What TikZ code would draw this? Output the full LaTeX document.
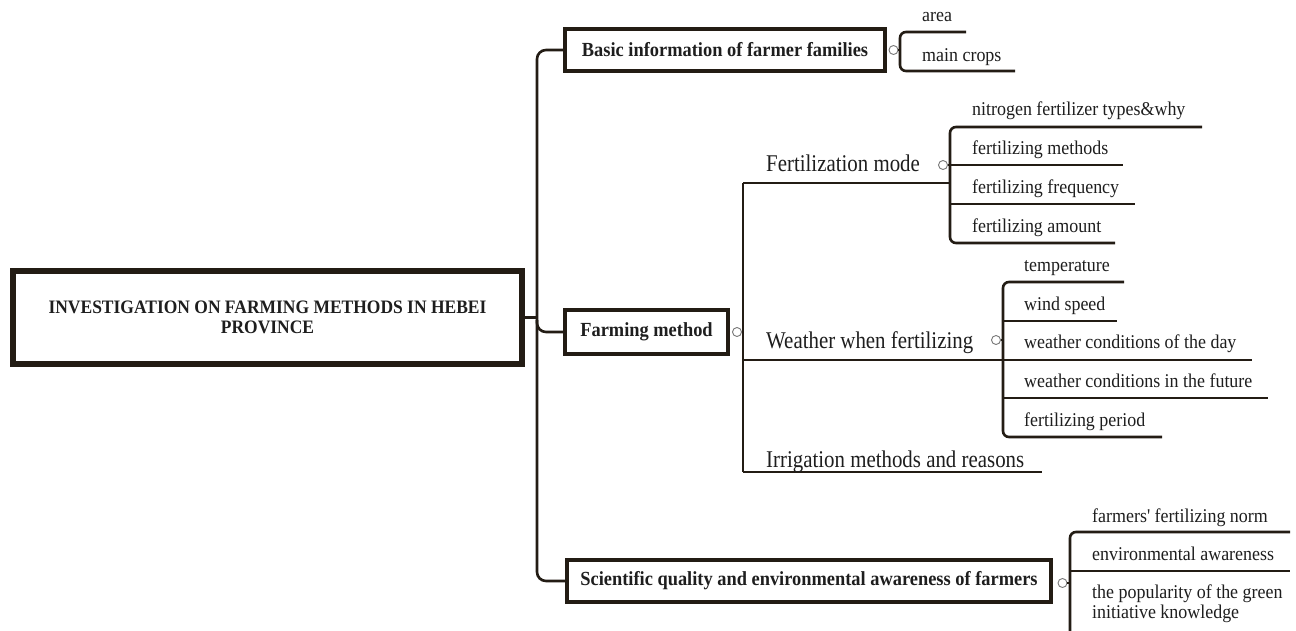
\documentclass[tikz,border=0pt]{standalone}
\usepackage{fontspec}
\setmainfont{Liberation Serif}
\newfontfamily\condserif[FakeStretch=0.87]{Liberation Serif}
\newfontfamily\leafserif[FakeStretch=0.92, Ligatures=TeXOff]{Liberation Serif}
\newfontfamily\boxserif[FakeStretch=0.92]{Liberation Serif}
\usetikzlibrary{calc}
\definecolor{lineclr}{RGB}{35,28,20}
\definecolor{txtclr}{RGB}{30,30,30}
\definecolor{dotclr}{RGB}{120,120,120}
\tikzset{
  conn/.style={draw=lineclr, line width=2.6pt},
  brk/.style={conn, rounded corners=6pt},
  boxs/.style={draw=lineclr, line width=4pt, fill=white, inner sep=0pt, text=txtclr,
    font=\boxserif\bfseries\fontsize{20}{22}\selectfont},
  rootbox/.style={boxs, line width=6pt, align=center, font=\boxserif\bfseries\fontsize{19}{20}\selectfont},
  dotnode/.style={circle, draw=dotclr, line width=0.9pt, fill=white, minimum size=9pt, inner sep=0pt},
  lvtwo/.style={anchor=base west, inner sep=0pt, text=txtclr, font=\condserif\fontsize{24}{28}\selectfont},
  lvthree/.style={anchor=base west, inner sep=0pt, text=txtclr, font=\leafserif\fontsize{19.5}{20}\selectfont},
}
\begin{document}
\begin{tikzpicture}[x=1pt,y=-1pt]
\useasboundingbox (0,0) rectangle (1296,630);
\fill[white] (0,0) rectangle (1296,630);

% main boxes
\node[rootbox, minimum width=509pt, minimum height=93pt] (root) at (267.5,317.5)
  {INVESTIGATION ON FARMING METHODS IN HEBEI\\PROVINCE};
\node[boxs, minimum width=320pt, minimum height=42pt] (basic) at (725,50) {Basic information of farmer families};
\node[boxs, minimum width=163pt, minimum height=44pt] (farm) at (646.5,332) {Farming method};
\node[boxs, minimum width=484pt, minimum height=42pt] (sci) at (809,581) {Scientific quality and environmental awareness of farmers};

% trunk
\coordinate (tx) at (537,0);
\draw[conn, rounded corners=9pt] (basic.west) -- (basic.west -| tx) -- (sci.west -| tx) -- (sci.west);
\draw[conn, rounded corners=9pt] ($(farm.west -| tx)+(0,-12)$) -- (farm.west -| tx) -- (farm.west);
\draw[conn] (root.east) -- (root.east -| tx);

% ---------- Basic information children
\coordinate (bx) at (900,0);
\coordinate (b1) at (966,32);
\coordinate (b2) at (1015,71);
\draw[brk] (b1) -- (b1 -| bx) -- (b2 -| bx) -- (b2);
\node[lvthree] (area) at (922,21) {area};
\node[lvthree] (crops) at (922,61) {main crops};
\node[dotnode] (bdot) at (893.5,50) {};
\draw[conn] (bdot) -- (bdot -| bx);

% ---------- Farming method children
\coordinate (fmA) at (743,183);
\coordinate (fmB) at (950,183);
\coordinate (wtA) at (743,360);
\coordinate (wtB) at (1003,360);
\coordinate (irA) at (743,472);
\coordinate (irB) at (1042,472);
\draw[conn] (fmA) -- (irA);
\draw[conn] (fmA) -- (fmB);
\draw[conn] (wtA) -- (wtB);
\draw[conn] (irA) -- (irB);
\node[dotnode] (fdot) at (737,332) {};
\draw[conn] (fdot) -- (fdot -| fmA);
\node[lvtwo] (fm) at (766,171) {Fertilization mode};
\node[lvtwo] (wt) at (766,348) {Weather when fertilizing};
\node[lvtwo] (ir) at (766,467) {Irrigation methods and reasons};

% Fertilization mode children
\coordinate (f1) at (1202,127);
\coordinate (f2) at (1123,165);
\coordinate (f3) at (1135,204);
\coordinate (f4) at (1115,243);
\draw[brk] (f1) -- (f1 -| fmB) -- (f4 -| fmB) -- (f4);
\draw[conn] (f2 -| fmB) -- (f2);
\draw[conn] (f3 -| fmB) -- (f3);
\node[lvthree] (n1) at (972,115) {nitrogen fertilizer types\&why};
\node[lvthree] (n2) at (972,154) {fertilizing methods};
\node[lvthree] (n3) at (972,193) {fertilizing frequency};
\node[lvthree] (n4) at (972,232) {fertilizing amount};
\node[dotnode] (fmdot) at (943,165) {};
\draw[conn] (fmdot) -- (fmdot -| fmB);

% Weather children
\coordinate (w1) at (1124,282);
\coordinate (w2) at (1117,321);
\coordinate (w3) at (1252,360);
\coordinate (w4) at (1268,398);
\coordinate (w5) at (1162,437);
\draw[brk] (w1) -- (w1 -| wtB) -- (w5 -| wtB) -- (w5);
\draw[conn] (w2 -| wtB) -- (w2);
\draw[conn] (w3 -| wtB) -- (w3);
\draw[conn] (w4 -| wtB) -- (w4);
\node[lvthree] (t1) at (1024,271) {temperature};
\node[lvthree] (t2) at (1024,310) {wind speed};
\node[lvthree] (t3) at (1024,348) {weather conditions of the day};
\node[lvthree] (t4) at (1024,387) {weather conditions in the future};
\node[lvthree] (t5) at (1024,426) {fertilizing period};
\node[dotnode] (wdot) at (996,340) {};
\draw[conn] (wdot) -- (wdot -| wtB);

% ---------- Scientific quality children
\coordinate (sx) at (1070,0);
\coordinate (s1) at (1290,532);
\coordinate (s2) at (1290,571);
\coordinate (sEnd) at (1070,632);
\draw[brk] (s1) -- (s1 -| sx) -- (sEnd);
\draw[conn] (s2 -| sx) -- (s2);
\node[lvthree] (k1) at (1092,522) {farmers' fertilizing norm};
\node[lvthree] (k2) at (1092,560) {environmental awareness};
\node[lvthree] (k3) at (1092,598) {the popularity of the green};
\node[lvthree] (k4) at (1092,618) {initiative knowledge};
\node[dotnode] (sdot) at (1062.5,583) {};
\draw[conn] (sdot) -- (sdot -| sx);
\end{tikzpicture}
\end{document}
